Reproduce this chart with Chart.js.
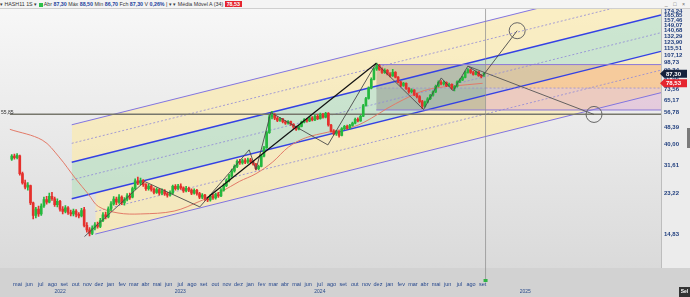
<!DOCTYPE html>
<html>
<head>
<meta charset="utf-8">
<script src="https://cdn.jsdelivr.net/npm/chart.js@4.4.1/dist/chart.umd.min.js"></script>
<style>
  html, body { margin: 0; padding: 0; background: #e2e2e2; overflow: hidden; }
  #wrap { position: relative; width: 690px; height: 297px; }
  canvas { display: block; }
  #hdr {
    position: absolute; left: 0; top: 0; width: 690px; height: 8px;
    background: #f4f4f4; border-bottom: 1px solid #cfcfcf;
    font: 5.3px "Liberation Sans", Arial, sans-serif; line-height: 8px;
    color: #333; white-space: nowrap; z-index: 2;
  }
  #hdr b { color: #1c3f9c; }
  #hdr .sq { display: inline-block; width: 4px; height: 4px; background: #2fc04a; vertical-align: -0.5px; }
  #hdr .ma { background: #e5252f; color: #fff; font-weight: bold; padding: 0 2px; }
  #hdr .win { position: absolute; right: 3px; top: 0; color: #666; letter-spacing: 2px; }
</style>
</head>
<body>
<div id="wrap">
  <div id="hdr">&#9662; HASH11 1S &#9662; <span class="sq"></span> Abr <b>87,30</b> Máx <b>88,50</b> Mín <b>86,70</b> Fch <b>87,30</b> V <b>0,26%</b> | &#9662; &#9662; Média Móvel A (34) <span class="ma">78,53</span><span class="win">_ &#9633; &#215;</span></div>
  <canvas id="chart" width="690" height="297"></canvas>
</div>
<script>
// ============================================================
// DATA
// ============================================================

// x axis is counted in months, 0 = mai/2022
const monthLabels = [
  "mai","jun","jul","ago","set","out","nov","dez",
  "jan","fev","mar","abr","mai","jun","jul","ago","set","out","nov","dez",
  "jan","fev","mar","abr","mai","jun","jul","ago","set","out","nov","dez",
  "jan","fev","mar","abr","mai","jun","jul","ago","set"
];
const yearLabels = ["2022", "2023", "2024", "2025"];
const yearStart = [-4, 8, 20, 32];

const yTicks = [14.83, 23.22, 31.61, 40.00, 48.39, 56.78, 65.17, 73.56, 81.95, 90.34,
  98.73, 107.12, 115.51, 123.90, 132.29, 140.68, 149.07, 157.46, 165.85, 174.24];

// weekly candles
const firstWeek = -0.5;
const weekStep = 12 / 52;

const opens = [
  34.0, 35.2, 34.6, 35.3, 29.0, 26.2, 25.0, 25.4, 21.0, 18.3,
  19.6, 18.6, 20.3, 21.8, 21.2, 22.6, 22.0, 20.6, 21.4, 19.6,
  19.1, 19.9, 18.9, 18.6, 19.2, 18.5, 18.2, 19.5, 16.4, 15.6,
  15.0, 15.9, 16.5, 16.2, 17.3, 18.4, 18.0, 19.6, 20.8, 21.9,
  21.2, 22.4, 21.0, 21.8, 22.7, 22.4, 24.6, 26.8, 26.1, 26.9,
  25.7, 24.6, 25.3, 24.4, 23.6, 24.3, 23.4, 24.0, 23.2, 22.9,
  23.4, 25.2, 24.6, 25.3, 24.8, 24.0, 24.7, 24.2, 23.4, 24.1,
  23.3, 22.4, 22.9, 22.0, 21.7, 22.6, 22.2, 23.0, 22.7, 24.2,
  25.4, 26.9, 28.3, 29.9, 31.4, 33.2, 32.6, 33.5, 32.9, 33.8,
  33.0, 32.2, 30.6, 31.4, 35.2, 38.6, 45.6, 54.2, 55.6, 53.4,
  52.2, 53.0, 51.4, 50.6, 51.5, 49.9, 48.5, 47.3, 48.8, 51.2,
  52.6, 51.8, 53.6, 52.4, 54.6, 53.2, 55.8, 54.0, 56.4, 49.6,
  46.4, 45.0, 46.2, 44.2, 47.6, 48.8, 47.9, 49.4, 50.6, 52.8,
  51.9, 54.6, 61.5, 66.4, 74.5, 82.0, 92.0, 95.4, 91.6, 88.4,
  90.6, 87.0, 85.2, 88.6, 84.0, 79.6, 76.8, 78.4, 74.2, 71.6,
  72.8, 69.4, 67.8, 64.2, 61.0, 63.8, 66.2, 68.8, 71.4, 76.0,
  79.4, 78.0, 79.2, 76.4, 77.6, 74.2, 75.8, 79.8, 81.4, 83.8,
  88.6, 91.2, 88.4, 86.6, 89.0, 85.4, 86.7
];
const highs = [
  35.8, 36.0, 36.2, 35.6, 29.5, 27.0, 26.3, 25.6, 21.2, 20.0,
  20.3, 20.8, 22.4, 22.6, 23.4, 23.6, 22.4, 22.0, 21.6, 20.2,
  20.4, 20.2, 19.4, 19.6, 19.5, 18.9, 19.8, 20.0, 16.9, 16.0,
  16.3, 16.9, 17.0, 17.7, 18.9, 19.0, 20.1, 21.3, 22.5, 22.4,
  23.0, 22.7, 22.3, 23.3, 23.4, 25.0, 27.4, 27.9, 27.6, 27.2,
  26.0, 25.8, 25.6, 24.8, 24.8, 24.6, 24.5, 24.3, 23.6, 24.0,
  25.6, 25.7, 25.8, 25.9, 25.1, 25.2, 25.0, 24.5, 24.5, 24.4,
  23.6, 23.3, 23.1, 22.4, 23.0, 23.1, 23.4, 23.6, 24.6, 25.9,
  27.4, 28.8, 30.5, 32.0, 33.8, 34.0, 34.1, 34.2, 34.4, 34.3,
  33.4, 32.5, 31.9, 35.8, 39.2, 46.4, 55.4, 57.6, 56.2, 54.3,
  53.8, 53.4, 52.0, 52.1, 51.8, 50.3, 49.0, 49.4, 51.8, 53.2,
  53.4, 54.2, 54.4, 55.3, 55.6, 56.5, 56.4, 57.0, 56.8, 50.0,
  47.2, 46.8, 46.6, 48.2, 49.4, 49.6, 50.0, 51.2, 53.5, 53.6,
  55.2, 62.3, 67.2, 75.5, 83.3, 93.2, 98.0, 96.8, 93.0, 92.2,
  91.4, 88.3, 91.6, 89.4, 84.6, 80.4, 79.4, 78.9, 75.0, 73.8,
  73.2, 70.4, 68.6, 65.0, 64.6, 67.0, 69.6, 72.2, 77.0, 80.6,
  81.0, 80.4, 79.8, 78.6, 78.0, 76.6, 80.6, 82.4, 84.8, 89.8,
  92.4, 91.8, 89.6, 90.0, 89.4, 86.4, 88.5
];
const lows = [
  33.6, 34.0, 34.1, 28.5, 25.8, 24.5, 24.2, 20.6, 17.6, 17.8,
  18.1, 18.3, 20.0, 20.7, 21.0, 21.6, 20.2, 20.1, 19.2, 18.6,
  18.8, 18.5, 18.2, 18.2, 18.0, 17.8, 18.0, 16.1, 15.2, 14.6,
  14.8, 15.6, 15.9, 16.0, 17.1, 17.6, 17.8, 19.3, 20.5, 20.6,
  20.9, 20.6, 20.5, 21.5, 21.8, 22.2, 24.3, 25.7, 25.6, 25.2,
  24.1, 24.2, 23.9, 23.2, 23.3, 22.9, 23.0, 22.8, 22.4, 22.6,
  23.1, 24.2, 24.3, 24.4, 23.6, 23.7, 23.8, 23.0, 23.1, 22.9,
  22.0, 22.0, 21.6, 21.3, 21.4, 21.8, 21.9, 22.3, 22.5, 23.9,
  25.1, 26.5, 27.9, 29.5, 31.0, 32.1, 32.2, 32.4, 32.5, 32.6,
  31.8, 30.2, 30.3, 31.2, 34.9, 38.3, 45.2, 53.0, 52.6, 51.4,
  51.6, 50.8, 49.9, 50.1, 49.3, 47.8, 46.7, 46.9, 48.5, 50.8,
  51.2, 51.4, 51.9, 52.0, 52.6, 52.9, 53.4, 53.6, 49.0, 45.8,
  44.4, 44.2, 43.4, 43.9, 47.1, 47.3, 47.5, 49.0, 50.2, 51.3,
  51.6, 54.3, 61.0, 66.0, 73.9, 81.4, 90.6, 90.4, 87.5, 87.6,
  86.0, 84.2, 84.8, 83.2, 78.8, 75.6, 75.9, 73.4, 70.4, 70.6,
  68.6, 66.8, 63.2, 59.4, 60.4, 63.2, 65.6, 68.2, 70.9, 75.4,
  77.2, 77.0, 75.6, 75.8, 73.4, 72.2, 75.2, 79.0, 80.8, 83.2,
  87.8, 87.6, 85.8, 86.0, 84.6, 83.2, 84.8
];
const closes = [
  35.2, 34.6, 35.5, 29.0, 26.2, 25.0, 25.6, 21.0, 18.3, 19.6,
  18.6, 20.3, 21.8, 21.2, 22.6, 22.0, 20.6, 21.4, 19.6, 19.1,
  19.9, 18.9, 18.6, 19.2, 18.5, 18.2, 19.3, 16.4, 15.6, 15.0,
  15.9, 16.5, 16.2, 17.3, 18.4, 18.0, 19.6, 20.8, 21.9, 21.2,
  22.4, 21.0, 21.8, 22.7, 22.2, 24.6, 26.8, 26.1, 26.9, 25.7,
  24.6, 25.3, 24.4, 23.6, 24.3, 23.4, 24.0, 23.2, 22.9, 23.6,
  25.2, 24.6, 25.3, 24.8, 24.0, 24.7, 24.2, 23.4, 24.1, 23.3,
  22.4, 22.9, 22.0, 21.7, 22.6, 22.2, 23.0, 22.7, 24.2, 25.4,
  26.9, 28.3, 29.9, 31.4, 33.2, 32.6, 33.5, 32.9, 33.8, 33.0,
  32.2, 30.6, 31.4, 35.2, 38.6, 45.6, 54.2, 55.6, 53.4, 52.2,
  53.0, 51.4, 50.6, 51.5, 49.9, 48.5, 47.3, 48.8, 51.2, 52.6,
  51.8, 53.6, 52.4, 54.6, 53.2, 55.8, 54.0, 56.4, 49.6, 46.4,
  45.0, 46.2, 44.2, 47.6, 48.8, 47.9, 49.4, 50.6, 52.8, 51.9,
  54.6, 61.5, 66.4, 74.5, 82.0, 92.0, 95.4, 91.6, 88.4, 90.6,
  87.0, 85.2, 88.6, 84.0, 79.6, 76.8, 78.4, 74.2, 71.6, 72.8,
  69.4, 67.8, 64.2, 61.0, 63.8, 66.2, 68.8, 71.4, 76.0, 79.4,
  78.0, 79.2, 76.4, 77.6, 74.2, 75.8, 79.8, 81.4, 83.8, 88.6,
  91.2, 88.4, 86.6, 89.0, 85.4, 84.6, 87.3
];

// Média Móvel A (34)
const maX = [-0.68, 2.12, 3.56, 5.0, 6.1, 6.95, 8.64, 10.59, 13.47, 15.68, 17.54, 19.07,
  20.51, 21.95, 23.31, 24.75, 26.69, 28.98, 30.42, 31.78, 33.22, 34.66, 36.02, 37.46, 40.0];
const maY = [47.3, 42.0, 34.9, 27.4, 23.1, 20.2, 18.8, 18.6, 19.2, 21.4, 23.8, 26.6,
  29.0, 33.0, 38.9, 43.0, 45.8, 48.8, 53.4, 59.5, 65.7, 71.5, 74.7, 76.2, 78.5];

// channel lines (start / end)
const chanFromX = [4.66, 4.66, 4.66, 4.66, 4.66, 6.69, 6.69];
const chanToX = 55.34;
const chanFromY = [49.7, 40.5, 32.9, 27.1, 22.0, 19.1, 14.9];
const chanToY = [252, 205, 166.8, 137.2, 111.6, 90.8, 70.8];

// box from the top
const boxFromX = 30.85, boxSplitX = 40.25, boxToX = 55.34;
const boxTop = 96.5, boxMid = 74.5, boxBottom = 58.5;

const supportLevel = 55.85;
const nowX = 40.25;
const lastPrice = 87.30;
const lastMA = 78.53;

// zigzag / projections
const zigX = [5.76, 10.93, 15.68, 19.92, 20.51, 21.78, 26.69, 30.85, 34.92, 36.44, 37.46, 38.73, 40.0, 42.97];
const zigY = [14.5, 26.6, 20.1, 37.7, 30.3, 56.9, 39.8, 98.0, 58.8, 83.3, 72.3, 94.9, 85.1, 140.2];
const trendX = [16.27, 30.85];
const trendY = [22.1, 98.0];
const projX = [38.73, 49.58];
const projY = [94.9, 55.7];
const circX = [42.97, 49.58];
const circY = [140.2, 55.7];

// ============================================================
// STYLES
// ============================================================

const Y_MIN = 10.25, Y_MAX = 178.1;
const X_MIN = -0.678, X_MAX = 55.34;

const chanColor = ["#8274e0", "#8f88d8", "#3440e4", "#8f88d8", "#3440e4", "#8f88d8", "#8274e0"];
const chanWidth = [1, 0.8, 1.4, 0.8, 1.4, 0.8, 1];
const chanDash = [[], [2, 2], [], [2, 2], [], [2, 2], []];
const yellowBand = "rgba(251,234,176,0.72)";
const greenBand = "rgba(190,224,196,0.75)";

const upColor = "#25b83e";
const downColor = "#e5302c";

// ============================================================
// BUILD DATASETS
// ============================================================

const pts = (xs, ys) => xs.map((x, i) => ({ x: x, y: ys[i] }));
const hline = (x0, x1, v) => [{ x: x0, y: v }, { x: x1, y: v }];

const datasets = [];

chanFromY.forEach((v, i) => {
  const ds = {
    type: "line",
    data: [{ x: chanFromX[i], y: v }, { x: chanToX, y: chanToY[i] }],
    borderColor: chanColor[i],
    borderWidth: chanWidth[i],
    borderDash: chanDash[i],
    pointRadius: 0,
    fill: false,
    order: 50
  };
  if (i === 0) { ds.fill = { target: 2 }; ds.backgroundColor = yellowBand; }
  if (i === 2) { ds.fill = { target: 4 }; ds.backgroundColor = greenBand; }
  if (i === 6) { ds.fill = { target: 4 }; ds.backgroundColor = yellowBand; }
  datasets.push(ds);
});

// box: left part (grey) and right part (orange / pink)
const boxBase = datasets.length;
[[boxFromX, boxSplitX], [boxSplitX, boxToX]].forEach((seg, k) => {
  const mid = boxBase + k * 3 + 1;
  datasets.push({
    type: "line", data: hline(seg[0], seg[1], boxTop), borderColor: "#8a78d8", borderWidth: 1,
    pointRadius: 0, fill: { target: mid },
    backgroundColor: k === 0 ? "rgba(140,110,100,0.32)" : "rgba(242,150,95,0.38)", order: 40
  });
  datasets.push({
    type: "line", data: hline(seg[0], seg[1], boxMid), borderColor: "#9a8fd0", borderWidth: 0.8,
    borderDash: [2, 2], pointRadius: 0, fill: false, order: 40
  });
  datasets.push({
    type: "line", data: hline(seg[0], seg[1], boxBottom), borderColor: "#8a78d8", borderWidth: 1,
    pointRadius: 0, fill: { target: mid },
    backgroundColor: k === 0 ? "rgba(105,100,100,0.32)" : "rgba(214,140,190,0.34)", order: 40
  });
});

datasets.push({
  type: "line", data: hline(X_MIN, X_MAX, supportLevel), borderColor: "#77776c",
  borderWidth: 1.6, pointRadius: 0, fill: false, order: 35
});
datasets.push({
  type: "line", data: [{ x: nowX, y: Y_MIN }, { x: nowX, y: Y_MAX }], borderColor: "rgba(140,140,140,0.7)",
  borderWidth: 1, pointRadius: 0, fill: false, order: 34
});
datasets.push({
  type: "line", data: pts(maX, maY), borderColor: "#e27a68", borderWidth: 1,
  pointRadius: 0, tension: 0.35, fill: false, order: 20
});

const candleX = opens.map((_, i) => firstWeek + i * weekStep);
const candleColor = opens.map((o, i) => closes[i] >= o ? upColor : downColor);

datasets.push({
  type: "bar", data: candleX.map((x, i) => ({ x: x, y: [lows[i], highs[i]] })),
  backgroundColor: candleColor, barThickness: 1, grouped: false, order: 11
});
datasets.push({
  type: "bar", data: candleX.map((x, i) => ({ x: x, y: [opens[i], closes[i]] })),
  backgroundColor: candleColor, barThickness: 2, minBarLength: 1, grouped: false, order: 10
});

datasets.push({
  type: "line", data: pts(zigX, zigY), borderColor: "#4a4a4a", borderWidth: 0.9,
  pointRadius: 0, fill: false, order: 5
});
datasets.push({
  type: "line", data: pts(trendX, trendY), borderColor: "#111", borderWidth: 1.2,
  pointRadius: 0, fill: false, order: 4
});
datasets.push({
  type: "line", data: pts(projX, projY), borderColor: "#555", borderWidth: 0.9,
  pointRadius: 0, fill: false, order: 4
});
datasets.push({
  type: "line", data: pts(circX, circY), showLine: false, pointRadius: 8,
  pointBorderColor: "#666", pointBackgroundColor: "rgba(0,0,0,0)", pointBorderWidth: 1, order: 3
});

// ============================================================
// PLUGINS
// ============================================================

const fmt = v => v.toFixed(2).replace(".", ",");

const backdrop = {
  id: "backdrop",
  beforeDraw(chart) {
    const { ctx, chartArea: a, width, height } = chart;
    ctx.save();
    const g = ctx.createLinearGradient(0, a.top, 0, a.bottom);
    g.addColorStop(0, "#f7f7f7");
    g.addColorStop(1, "#dadada");
    ctx.fillStyle = g;
    ctx.fillRect(0, 0, width, height);
    ctx.fillStyle = "#d2d2d2";
    ctx.fillRect(0, a.bottom, width, height - a.bottom);
    ctx.fillStyle = "#ececec";
    ctx.fillRect(a.right, 0, width - a.right, a.bottom);
    ctx.fillStyle = "#bdbdbd";
    ctx.fillRect(a.right, 0, 1, a.bottom);
    ctx.restore();
  }
};

const overlay = {
  id: "overlay",
  afterDraw(chart) {
    const { ctx, chartArea: a, width, height, scales } = chart;
    const x = scales.x, y = scales.y;
    ctx.save();

    // year labels
    ctx.font = "5px 'Liberation Sans', Arial, sans-serif";
    ctx.fillStyle = "#2b4c8c";
    ctx.textAlign = "center";
    ctx.textBaseline = "middle";
    yearLabels.forEach((lab, k) => {
      const from = Math.max(yearStart[k], x.min);
      const to = k < yearLabels.length - 1 ? yearStart[k + 1] : x.max;
      ctx.fillText(lab, (x.getPixelForValue(from) + x.getPixelForValue(to)) / 2, 292);
    });

    // support level label
    ctx.fillStyle = "#333";
    ctx.textAlign = "left";
    ctx.fillText(fmt(supportLevel), 1, y.getPixelForValue(supportLevel) - 2);

    // now marker on the x axis
    const nx = x.getPixelForValue(nowX);
    ctx.fillStyle = "rgba(140,140,140,0.7)";
    ctx.fillRect(nx - 0.5, a.bottom, 1, 12);
    ctx.fillStyle = "#2fb344";
    ctx.fillRect(nx - 2, a.bottom + 11, 4, 3);

    // price badges
    const badge = (val, bg, txt) => {
      const py = y.getPixelForValue(val);
      ctx.fillStyle = bg;
      ctx.beginPath();
      ctx.moveTo(a.right - 1, py);
      ctx.lineTo(a.right + 3, py - 4);
      ctx.lineTo(width - 3, py - 4);
      ctx.lineTo(width - 3, py + 4);
      ctx.lineTo(a.right + 3, py + 4);
      ctx.closePath();
      ctx.fill();
      ctx.fillStyle = "#fff";
      ctx.font = "bold 6px 'Liberation Sans', Arial, sans-serif";
      ctx.textAlign = "left";
      ctx.fillText(txt, a.right + 5, py + 0.5);
    };
    badge(lastMA, "#e5252f", fmt(lastMA));
    badge(lastPrice, "#16223c", fmt(lastPrice));

    // scrollbar and corner box
    ctx.fillStyle = "#7a7a7a";
    ctx.fillRect(width - 3, 128, 3, 20);
    ctx.fillStyle = "#333";
    ctx.fillRect(width - 11, height - 10, 11, 10);
    ctx.fillStyle = "#fff";
    ctx.font = "bold 5px 'Liberation Sans', Arial, sans-serif";
    ctx.textAlign = "center";
    ctx.fillText("Sel", width - 5.5, height - 5);
    ctx.restore();
  }
};

// ============================================================
// CHART
// ============================================================

new Chart(document.getElementById("chart"), {
  type: "line",
  data: { datasets: datasets },
  options: {
    responsive: false,
    animation: false,
    devicePixelRatio: 1,
    layout: { padding: { top: 5, left: 0, right: 0, bottom: 0 } },
    plugins: {
      legend: { display: false },
      tooltip: { enabled: false },
      filler: { drawTime: "beforeDatasetsDraw" }
    },
    scales: {
      x: {
        type: "linear",
        min: X_MIN,
        max: X_MAX,
        offset: false,
        grid: { display: false, drawTicks: false },
        border: { display: false },
        afterBuildTicks: s => { s.ticks = monthLabels.map((_, i) => ({ value: i })); },
        afterFit: s => { s.height = 29; },
        ticks: {
          autoSkip: false,
          maxRotation: 0,
          padding: 13,
          color: "#24468c",
          font: { size: 5.5, family: "'Liberation Sans', Arial, sans-serif" },
          callback: v => monthLabels[v] || ""
        }
      },
      y: {
        type: "logarithmic",
        position: "right",
        min: Y_MIN,
        max: Y_MAX,
        grid: { display: false, drawTicks: false },
        border: { display: false },
        afterBuildTicks: s => { s.ticks = yTicks.map(v => ({ value: v })); },
        afterFit: s => { s.width = 29; },
        ticks: {
          padding: 3,
          color: "#22407f",
          font: { size: 6, weight: "bold", family: "'Liberation Sans', Arial, sans-serif" },
          callback: v => fmt(v)
        }
      }
    }
  },
  plugins: [backdrop, overlay]
});
</script>
</body>
</html>
